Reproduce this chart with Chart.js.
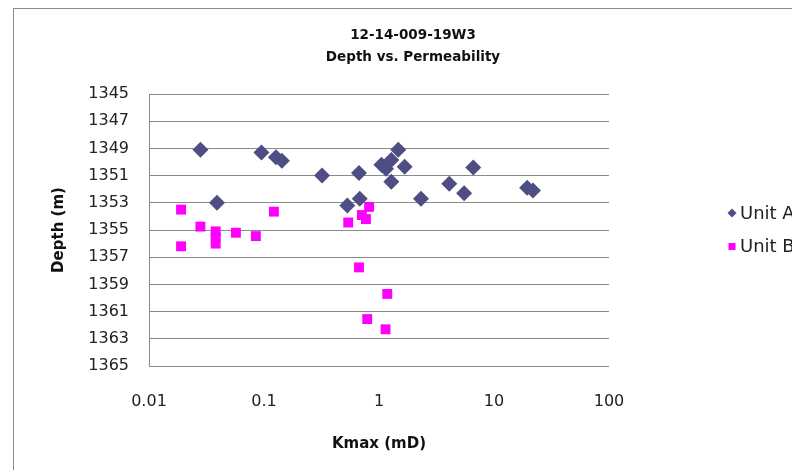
<!DOCTYPE html>
<html>
<head>
<meta charset="utf-8">
<script src="https://cdn.jsdelivr.net/npm/chart.js@4/dist/chart.umd.min.js"></script>
<style>
  html, body { margin: 0; padding: 0; background: #fff; overflow: hidden; }
  #wrap { width: 792px; height: 470px; position: relative; }
</style>
</head>
<body>
<div id="wrap"><canvas id="chart"></canvas></div>
<script>
// dados
const unitAK = [0.028, 0.095, 0.127, 0.143, 0.32, 0.67, 0.039, 0.53, 0.68, 1.05, 1.15, 1.28, 1.47, 1.67, 1.28, 2.32, 4.08, 5.5, 6.6, 19.4, 21.8];
const unitADepth = [1349.1, 1349.3, 1349.65, 1349.9, 1351.0, 1350.8, 1353.0, 1353.2, 1352.7, 1350.2, 1350.5, 1349.85, 1349.1, 1350.35, 1351.45, 1352.7, 1351.6, 1352.3, 1350.4, 1351.9, 1352.1];

const unitBK = [0.019, 0.019, 0.028, 0.038, 0.038, 0.038, 0.057, 0.085, 0.122, 0.54, 0.71, 0.77, 0.82, 0.67, 1.18, 0.79, 1.14];
const unitBDepth = [1353.5, 1356.2, 1354.75, 1355.1, 1355.5, 1356.0, 1355.2, 1355.45, 1353.65, 1354.45, 1353.9, 1354.2, 1353.3, 1357.75, 1359.7, 1361.55, 1362.3];

const seriesNames = ["Unit A", "Unit B"];
const xTicks = [0.01, 0.1, 1, 10, 100];
const yTicks = [1345, 1347, 1349, 1351, 1353, 1355, 1357, 1359, 1361, 1363, 1365];
const titleLines = ["12-14-009-19W3", "Depth vs. Permeability"];

const FONT = "'DejaVu Sans', sans-serif";
const corA = "#4E4E84";
const corB = "#FF00FF";

function pontos(xs, ys) {
  return xs.map((x, i) => ({ x: x, y: ys[i] }));
}

// moldura, título e legenda desenhados à mão (estilo Excel)
const extras = {
  id: "extras",
  beforeDraw(chart) {
    const ctx = chart.ctx;
    ctx.save();
    ctx.fillStyle = "#fff";
    ctx.fillRect(0, 0, chart.width, chart.height);
    ctx.strokeStyle = "#8c8c8c";
    ctx.lineWidth = 1;
    ctx.strokeRect(13.5, 8.5, 900, 600);
    ctx.restore();
  },
  afterDraw(chart) {
    const ctx = chart.ctx;
    ctx.save();
    ctx.fillStyle = "#111";
    ctx.textAlign = "center";
    ctx.textBaseline = "middle";
    ctx.font = "bold 13.5px " + FONT;
    ctx.fillText(titleLines[0], 413, 35);
    ctx.fillText(titleLines[1], 413, 57);

    // legenda (cortada na borda direita, como no original)
    ctx.textAlign = "left";
    ctx.font = "18px " + FONT;
    ctx.fillStyle = corA;
    ctx.beginPath();
    ctx.moveTo(732, 208.5); ctx.lineTo(736.5, 213); ctx.lineTo(732, 217.5); ctx.lineTo(727.5, 213);
    ctx.closePath(); ctx.fill();
    ctx.fillStyle = corB;
    ctx.fillRect(728.5, 243, 7, 7);
    ctx.fillStyle = "#222";
    ctx.fillText(seriesNames[0], 740, 214);
    ctx.fillText(seriesNames[1], 740, 247);
    ctx.restore();
  }
};

new Chart(document.getElementById("chart"), {
  type: "scatter",
  data: {
    datasets: [
      {
        label: seriesNames[0],
        data: pontos(unitAK, unitADepth),
        pointStyle: "rectRot",
        pointRadius: 8,
        backgroundColor: corA,
        borderColor: corA,
        borderWidth: 0
      },
      {
        label: seriesNames[1],
        data: pontos(unitBK, unitBDepth),
        pointStyle: "rect",
        pointRadius: 7,
        backgroundColor: corB,
        borderColor: corB,
        borderWidth: 0
      }
    ]
  },
  options: {
    responsive: true,
    maintainAspectRatio: false,
    animation: false,
    layout: { padding: { top: 94, right: 183, bottom: 13, left: 46 } },
    plugins: {
      legend: { display: false },
      title: { display: false },
      tooltip: { enabled: false }
    },
    scales: {
      x: {
        type: "logarithmic",
        min: 0.01,
        max: 100,
        afterBuildTicks: s => { s.ticks = xTicks.map(v => ({ value: v })); },
        afterFit: s => { s.height = 91; },
        ticks: {
          color: "#222",
          font: { family: FONT, size: 16 },
          padding: 26,
          maxRotation: 0,
          autoSkip: false,
          callback: v => String(v)
        },
        grid: { display: false, drawTicks: false },
        border: { display: false },
        title: {
          display: true,
          text: "Kmax (mD)",
          color: "#111",
          font: { family: FONT, size: 15, weight: "bold" }
        }
      },
      y: {
        reverse: true,
        min: 1345,
        max: 1365,
        afterBuildTicks: s => { s.ticks = yTicks.map(v => ({ value: v })); },
        afterFit: s => { s.width = 103; },
        ticks: {
          color: "#222",
          font: { family: FONT, size: 16 },
          padding: 20,
          autoSkip: false,
          callback: v => String(v)
        },
        grid: { color: "#8a8a8a", lineWidth: 1, drawTicks: false },
        border: { display: true, color: "#8a8a8a", width: 1 },
        title: {
          display: true,
          text: "Depth (m)",
          color: "#111",
          font: { family: FONT, size: 15, weight: "bold" }
        }
      }
    }
  },
  plugins: [extras]
});
</script>
</body>
</html>
